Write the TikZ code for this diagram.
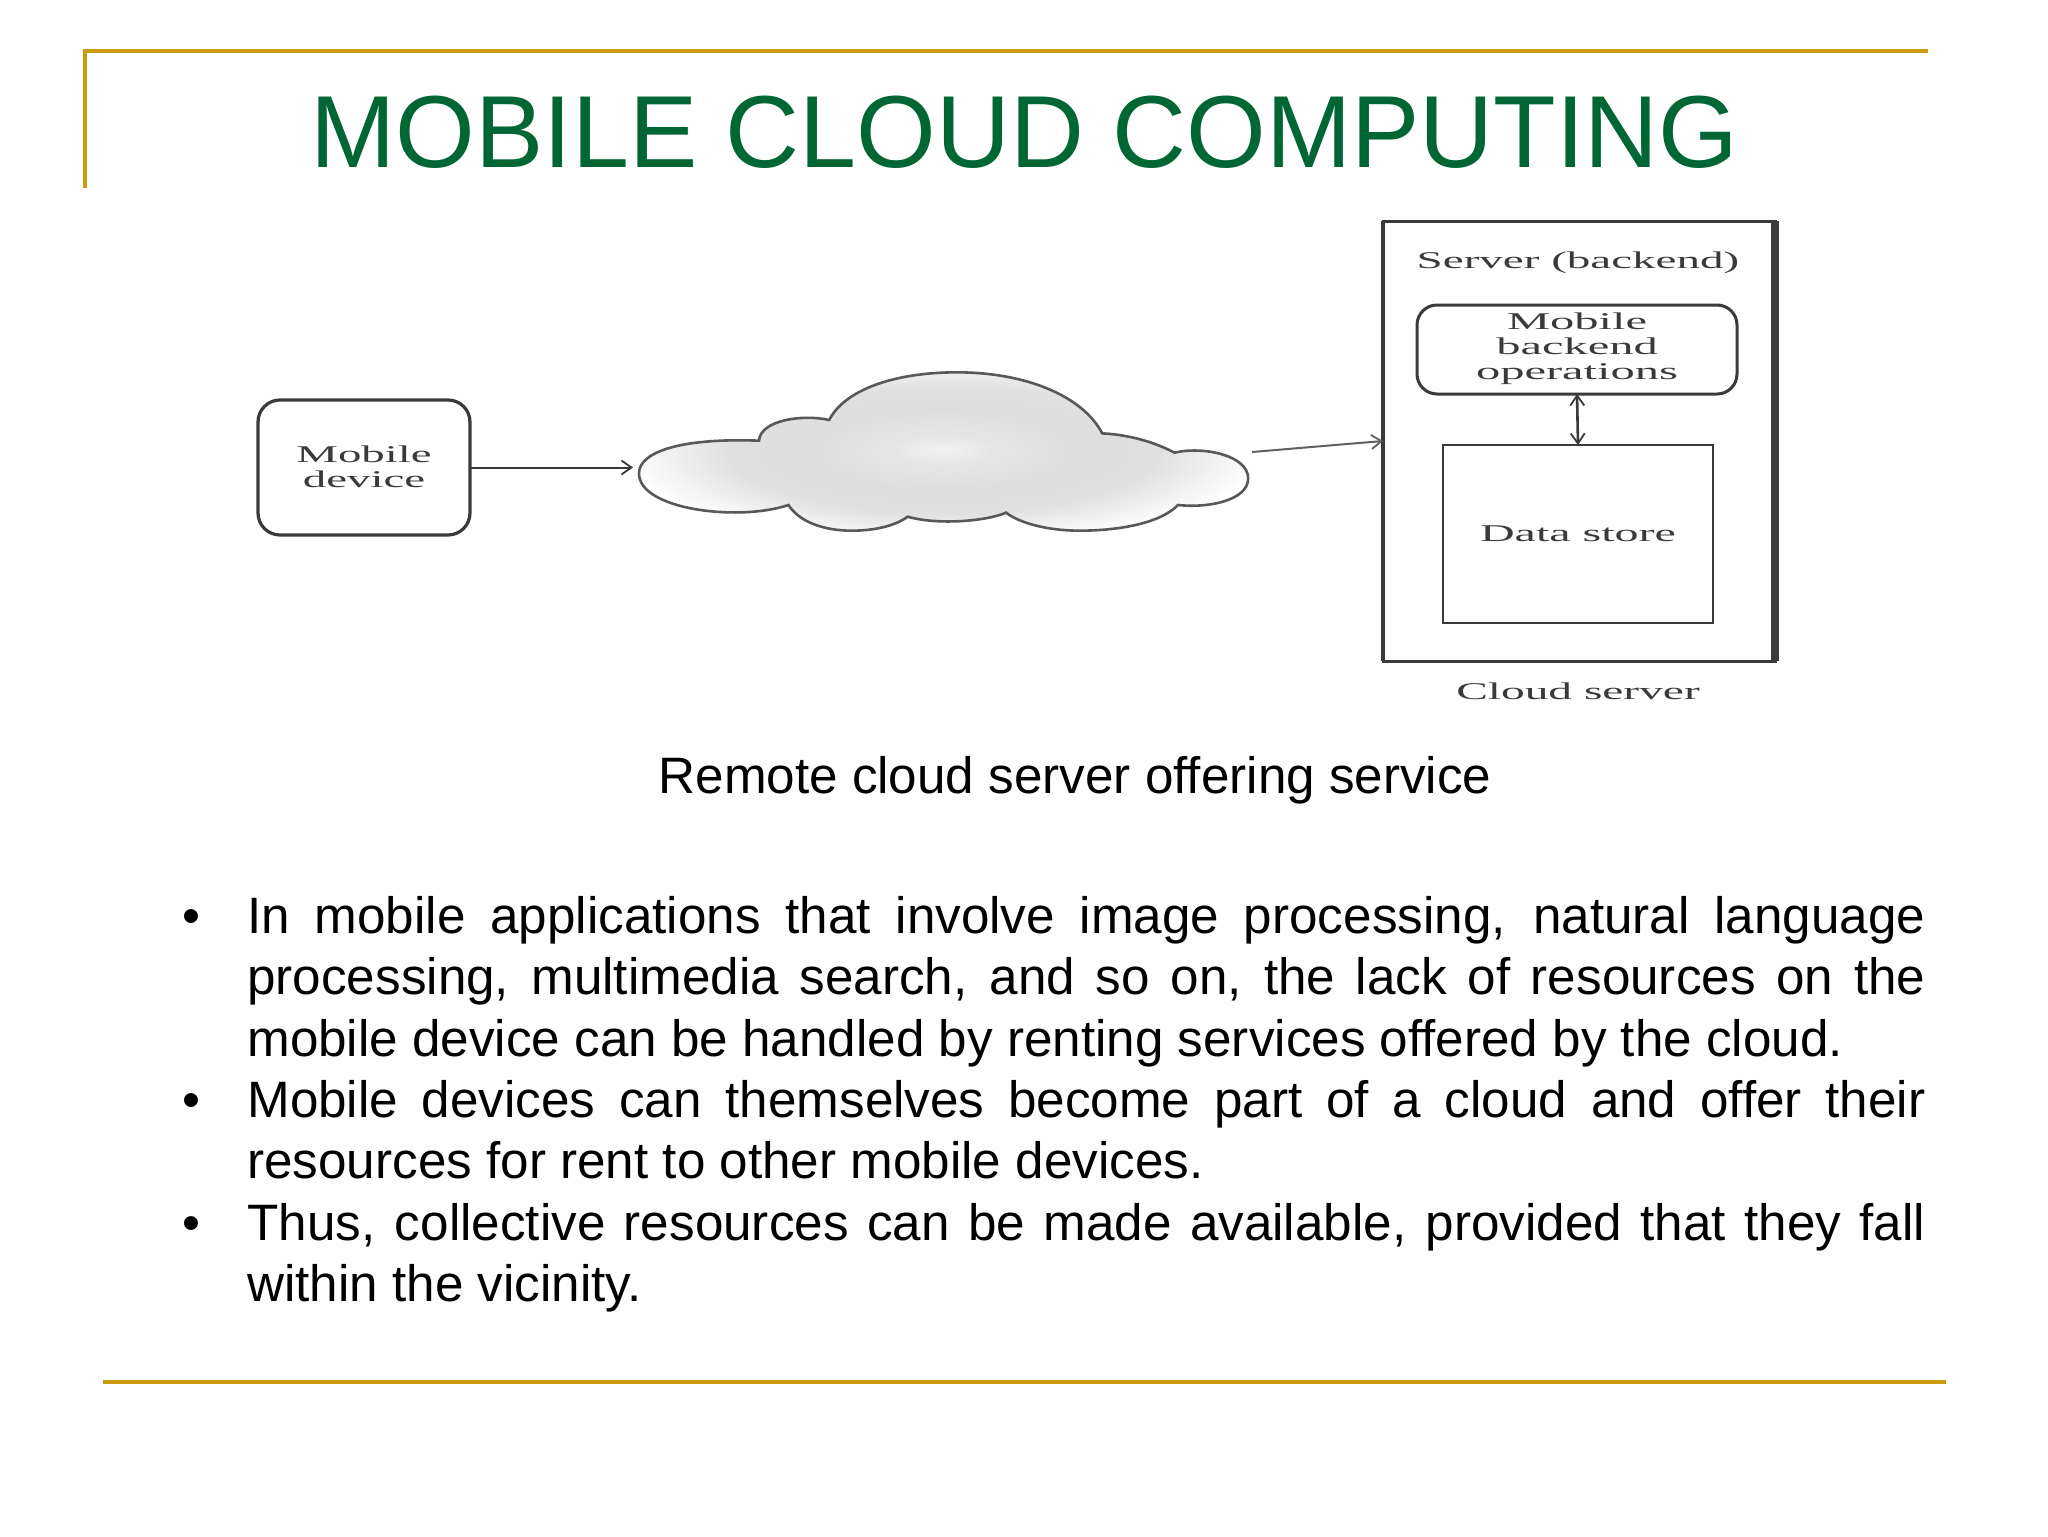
\documentclass[tikz,border=0pt]{standalone}
\usepackage{fontspec}
\setmainfont{Liberation Sans}
\newfontfamily\figfont{Liberation Serif}
\usetikzlibrary{arrows.meta}
\definecolor{gold}{HTML}{CC9A10}
\definecolor{titlegreen}{HTML}{006633}
\definecolor{figink}{HTML}{3A3A3A}
\definecolor{slidetint}{HTML}{FEFEFE}
\pgfdeclareradialshading{cloudgrey}{\pgfpoint{0bp}{0bp}}{%
  color(0bp)=(black!5); color(4bp)=(black!10); color(11bp)=(black!13);
  color(17bp)=(black!12); color(22bp)=(black!5); color(25bp)=(black!1); color(100bp)=(white)}
\newcommand{\wide}[2]{\scalebox{#1}[1]{#2}}
\tikzset{
  goldline/.style={draw=gold,line width=2pt},
  figbox/.style={draw=figink,inner sep=0pt,outer sep=0pt,font=\figfont\fontsize{12}{12.6}\selectfont,text=figink},
  figlabel/.style={inner sep=0pt,anchor=base,font=\figfont\fontsize{12}{12.6}\selectfont,text=figink},
  flow/.style={draw=figink,line width=1pt,-{Straight Barb[length=5pt,width=7pt,line width=.9pt]}},
  bulletbody/.style={anchor=north west,inner sep=0pt,text width=839pt,align=justify,
    font=\fontsize{25.6}{30.7}\selectfont},
  bulletmark/.style={anchor=base,inner sep=0pt,font=\fontsize{25.6}{30.7}\selectfont}
}
\begin{document}
\begin{tikzpicture}[x=0.5pt,y=-0.5pt]
\useasboundingbox (0,0) rectangle (2048,1536);
\fill[slidetint] (80,195) rectangle (1935,1536);
% frame lines
\draw[goldline] (85,188) -- (85,51) -- (1928,51);
\draw[goldline] (103,1382) -- (1946,1382);
% title
\node[anchor=base west,inner sep=0pt,text=titlegreen,font=\fontsize{51.2}{60}\selectfont] (title) at (310,167) {MOBILE CLOUD COMPUTING};
% mobile device
\node[figbox,line width=1.6pt,rounded corners=11pt,minimum width=106pt,minimum height=67.5pt] (mobile) at (364,467.5)
  {\raisebox{-4.3pt}[0pt][0pt]{\wide{1.95}{\begin{tabular}{@{}c@{}}Mobile\\device\end{tabular}}}};
% cloud
\begin{scope}[shift={(220,340)},x=0.3509pt,y=-0.16667pt]
\draw[draw=figink!85,line width=1.3pt,path picture={\shade[shading=cloudgrey] (1030,330) ellipse [x radius=450,y radius=280];}]
  (597,400) .. controls (597,340) and (650,293) .. (768,302)
  .. controls (770,240) and (830,222) .. (868,240)
  .. controls (890,150) and (960,97) .. (1050,97)
  .. controls (1150,97) and (1230,170) .. (1257,280)
  .. controls (1300,285) and (1335,310) .. (1360,338)
  .. controls (1400,318) and (1465,345) .. (1465,415)
  .. controls (1465,480) and (1410,505) .. (1365,495)
  .. controls (1340,550) and (1280,572) .. (1225,572)
  .. controls (1180,572) and (1140,550) .. (1120,518)
  .. controls (1090,545) and (1020,555) .. (980,530)
  .. controls (960,560) and (930,572) .. (900,572)
  .. controls (860,572) and (825,545) .. (810,495)
  .. controls (740,545) and (597,510) .. (597,400) -- cycle;
\end{scope}
\coordinate (cloudL) at (633,467.5);
\coordinate (cloudR) at (1252,452);
% server
\node[figbox,line width=1.5pt,minimum width=196pt,minimum height=220pt] (server) at (1579,441) {};
\draw[figink,line width=4pt] (server.north east) -- (server.south east);
\draw[figink,line width=2pt] (server.north west) -- (server.south west);
\node[figlabel] (serverlabel) at (1578,268) {\wide{1.96}{Server (backend)}};
\node[figbox,line width=1.5pt,rounded corners=10pt,minimum width=160pt,minimum height=44.5pt] (backend) at (1577,349.5)
  {\wide{2.02}{\begin{tabular}{@{}c@{}}Mobile\\backend\\operations\end{tabular}}};
\node[figbox,line width=1.3pt,minimum width=135pt,minimum height=89pt] (data) at (1578,534) {};
\node[figlabel] (datalabel) at (1578,541) {\wide{2.0}{Data store}};
\node[figlabel] (cloudlabel) at (1578,699) {\wide{1.975}{Cloud server}};
% connectors
\draw[flow] (mobile.east) -- (cloudL);
\draw[flow,draw=figink!80] (cloudR) -- (server.west);
\draw[flow,{Straight Barb[length=5pt,width=7pt,line width=.9pt]}-{Straight Barb[length=5pt,width=7pt,line width=.9pt]},line width=1.3pt] (backend.south) -- (data.north);
% caption
\node[anchor=base,inner sep=0pt,font=\fontsize{25.6}{30.7}\selectfont] (caption) at (1075,793) {Remote cloud server offering service};
% bullets
\node[bulletmark] (m1) at (191,933) {•};
\node[bulletbody] (b1) at (247,890) {\strut In mobile applications that involve image processing, natural language\linebreak
processing, multimedia search, and so on, the lack of resources on the\linebreak
mobile device can be handled by renting services offered by the cloud.};
\node[bulletmark] (m2) at (191,1117) {•};
\node[bulletbody] (b2) at (247,1074) {\strut Mobile devices can themselves become part of a cloud and offer their\linebreak
resources for rent to other mobile devices.};
\node[bulletmark] (m3) at (191,1240) {•};
\node[bulletbody] (b3) at (247,1197) {\strut Thus, collective resources can be made available, provided that they fall\linebreak
within the vicinity.};
\end{tikzpicture}
\end{document}
